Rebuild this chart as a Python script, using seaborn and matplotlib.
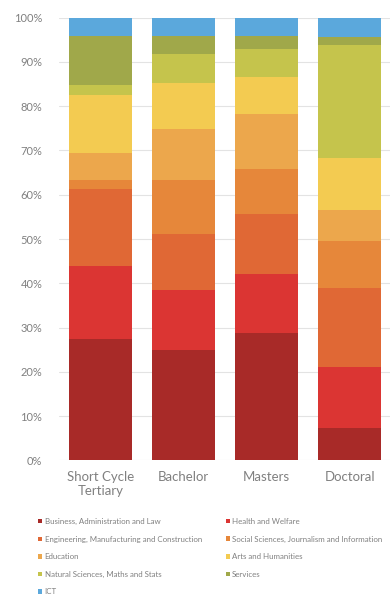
import numpy as np
import pandas as pd
import matplotlib
matplotlib.use("Agg")
import matplotlib.pyplot as plt
from matplotlib.patches import Patch
import seaborn as sns

levels = ["Short Cycle\nTertiary", "Bachelor", "Masters", "Doctoral"]
fields = [
    "Business, Administration and Law",
    "Health and Welfare",
    "Engineering, Manufacturing and Construction",
    "Social Sciences, Journalism and Information",
    "Education",
    "Arts and Humanities",
    "Natural Sciences, Maths and Stats",
    "Services",
    "ICT",
]
business = [27.5, 25.0, 28.8, 7.2]
health = [16.4, 13.5, 13.4, 13.8]
engineering = [17.4, 12.6, 13.4, 18.0]
social = [2.0, 12.2, 10.3, 10.5]
education = [6.1, 11.6, 12.4, 7.1]
arts = [13.2, 10.4, 8.4, 11.8]
natural = [2.1, 6.4, 6.2, 25.4]
services = [11.2, 4.2, 3.0, 1.8]
ict = [4.1, 4.1, 4.1, 4.4]

colors = ["#A82A28", "#DB3533", "#E06835", "#E6873A", "#ECA74C",
          "#F3CB51", "#C5C44C", "#A0A84A", "#5BA8DC"]

series = [business, health, engineering, social, education, arts, natural, services, ict]
vals = np.array(series, dtype=float)
vals = vals / vals.sum(axis=0) * 100
cum = vals.cumsum(axis=0)

sns.set_theme(style="white")
plt.rcParams["font.family"] = ["Lato", "DejaVu Sans"]

fig = plt.figure(figsize=(3.9, 5.99), dpi=100)
ax = fig.add_axes([59 / 390, 1 - 460.3 / 599, 1 - 59 / 390 + 0.01, (460.3 - 17.7) / 599])

for k in range(len(fields) - 1, -1, -1):
    df = pd.DataFrame({"level": levels, "v": cum[k]})
    sns.barplot(data=df, x="level", y="v", color=colors[k], width=0.755,
                saturation=1, ax=ax, linewidth=0, zorder=2)

ax.set_ylim(0, 100)
ax.set_xlim(-0.5, 3.53)
ax.set_yticks(np.arange(0, 101, 10))
ax.set_yticklabels([f"{t}%" for t in range(0, 101, 10)], color="#808080", fontsize=8)
ax.tick_params(axis="y", length=0, pad=12)
ax.tick_params(axis="x", length=0, pad=8, labelsize=9.5, labelcolor="#808080")
ax.set_xlabel("")
ax.set_ylabel("")
ax.yaxis.grid(True, color="#e3e3e3", linewidth=0.8, zorder=0)
ax.set_axisbelow(True)
for s in ax.spines.values():
    s.set_visible(False)

order = [0, 2, 4, 6, 8, 1, 3, 5, 7]
handles = [Patch(facecolor=colors[i], edgecolor="none") for i in order]
labels = [fields[i] for i in order]
fig.legend(handles, labels, ncol=2, loc="upper left", bbox_to_anchor=(0.098, 1 - 518 / 599),
           frameon=False, fontsize=5.7, labelcolor="#808080",
           handlelength=0.5, handleheight=0.5, handletextpad=0.3,
           columnspacing=3.0, labelspacing=1.33, borderaxespad=0, borderpad=0)

fig.savefig("out.png", dpi=100, facecolor="white")
